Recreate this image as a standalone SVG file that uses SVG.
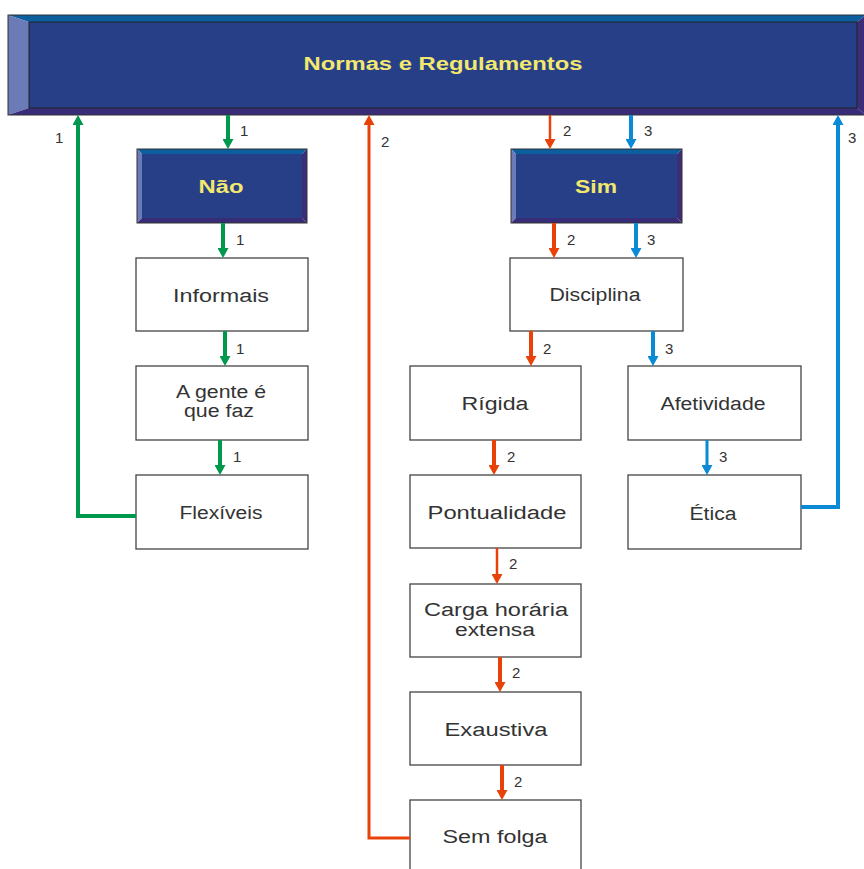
<svg xmlns="http://www.w3.org/2000/svg" width="864" height="869" viewBox="0 0 864 869">
<style>
.bt{fill:#0b5f9e}.bl{fill:#6a7bb7}.br{fill:#3d2c78}.bb{fill:#382c78}
.in{fill:#263f87;stroke:#222;stroke-width:1}
.out{fill:none;stroke:#333;stroke-width:1}
.box{fill:#fff;stroke:#444;stroke-width:1.3}
.tx{font-family:"Liberation Sans",Arial,sans-serif;font-size:18px;fill:#333;text-anchor:middle}
.ht{font-family:"Liberation Sans",Arial,sans-serif;font-size:17.5px;font-weight:bold;fill:#f2e86e;text-anchor:middle}
.lb{font-family:"Liberation Sans",Arial,sans-serif;font-size:15px;fill:#333}
.g{stroke:#00984c;fill:none;stroke-width:4}
.r{stroke:#e8420a;fill:none;stroke-width:4}
.b{stroke:#0a8ad6;fill:none;stroke-width:4}
</style>
<defs>
<marker id="ag" markerUnits="userSpaceOnUse" markerWidth="11" markerHeight="11" refX="4" refY="5.5" orient="auto"><path d="M0,0 L10,5.5 L0,11 z" fill="#00984c"/></marker>
<marker id="ar" markerUnits="userSpaceOnUse" markerWidth="11" markerHeight="11" refX="4" refY="5.5" orient="auto"><path d="M0,0 L10,5.5 L0,11 z" fill="#e8420a"/></marker>
<marker id="ab" markerUnits="userSpaceOnUse" markerWidth="11" markerHeight="11" refX="4" refY="5.5" orient="auto"><path d="M0,0 L10,5.5 L0,11 z" fill="#0a8ad6"/></marker>
</defs>
<rect width="864" height="869" fill="#fff"/>

<g id="normas">
<polygon class="bt" points="8,15 866,15 857,22 29,22"/>
<polygon class="bl" points="8,15 29,22 29,108 8,115"/>
<polygon class="br" points="866,15 866,115 857,108 857,22"/>
<polygon class="bb" points="8,115 29,108 857,108 866,115"/>
<rect class="in" x="29" y="22" width="828" height="86"/>
<rect class="out" x="8" y="15" width="858" height="100"/>
<text class="ht" x="443" y="70" textLength="279" lengthAdjust="spacingAndGlyphs">Normas e Regulamentos</text>
</g>

<g id="nao">
<polygon class="bt" points="137,149 307,149 302,154 142,154"/>
<polygon class="bl" points="137,149 142,154 142,218 137,223"/>
<polygon class="br" points="307,149 307,223 302,218 302,154"/>
<polygon class="bb" points="137,223 142,218 302,218 307,223"/>
<rect x="142" y="154" width="160" height="64" fill="#263f87"/>
<rect class="out" x="137" y="149" width="170" height="74"/>
<text class="ht" x="221" y="193" textLength="45" lengthAdjust="spacingAndGlyphs">Não</text>
</g>

<g id="sim">
<polygon class="bt" points="511,149 682,149 677,154 516,154"/>
<polygon class="bl" points="511,149 516,154 516,218 511,223"/>
<polygon class="br" points="682,149 682,223 677,218 677,154"/>
<polygon class="bb" points="511,223 516,218 677,218 682,223"/>
<rect x="516" y="154" width="161" height="64" fill="#263f87"/>
<rect class="out" x="511" y="149" width="171" height="74"/>
<text class="ht" x="596" y="193" textLength="42" lengthAdjust="spacingAndGlyphs">Sim</text>
</g>

<g id="informais"><rect class="box" x="136" y="258" width="172" height="73"/><text class="tx" x="221" y="302" textLength="96" lengthAdjust="spacingAndGlyphs">Informais</text></g>
<g id="agente"><rect class="box" x="136" y="366" width="172" height="74"/><text class="tx" x="221" y="398" textLength="90" lengthAdjust="spacingAndGlyphs">A gente é</text><text class="tx" x="219" y="417" textLength="70" lengthAdjust="spacingAndGlyphs">que faz</text></g>
<g id="flexiveis"><rect class="box" x="136" y="475" width="172" height="74"/><text class="tx" x="221" y="519" textLength="83" lengthAdjust="spacingAndGlyphs">Flexíveis</text></g>
<g id="disciplina"><rect class="box" x="510" y="258" width="173" height="73"/><text class="tx" x="595" y="301" textLength="91" lengthAdjust="spacingAndGlyphs">Disciplina</text></g>
<g id="rigida"><rect class="box" x="410" y="366" width="171" height="74"/><text class="tx" x="495" y="410" textLength="67" lengthAdjust="spacingAndGlyphs">Rígida</text></g>
<g id="afetividade"><rect class="box" x="628" y="366" width="173" height="74"/><text class="tx" x="713" y="410" textLength="105" lengthAdjust="spacingAndGlyphs">Afetividade</text></g>
<g id="pontualidade"><rect class="box" x="410" y="475" width="171" height="73"/><text class="tx" x="497" y="519" textLength="139" lengthAdjust="spacingAndGlyphs">Pontualidade</text></g>
<g id="etica"><rect class="box" x="628" y="475" width="173" height="74"/><text class="tx" x="713" y="520" textLength="47" lengthAdjust="spacingAndGlyphs">Ética</text></g>
<g id="carga"><rect class="box" x="410" y="584" width="171" height="73"/><text class="tx" x="496" y="616" textLength="144" lengthAdjust="spacingAndGlyphs">Carga horária</text><text class="tx" x="495" y="636" textLength="80" lengthAdjust="spacingAndGlyphs">extensa</text></g>
<g id="exaustiva"><rect class="box" x="410" y="692" width="171" height="73"/><text class="tx" x="496" y="736" textLength="103" lengthAdjust="spacingAndGlyphs">Exaustiva</text></g>
<g id="semfolga"><rect class="box" x="410" y="800" width="171" height="75"/><text class="tx" x="495" y="843" textLength="105" lengthAdjust="spacingAndGlyphs">Sem folga</text></g>

<g id="connectors">
<path class="g" d="M228,115 V143" marker-end="url(#ag)"/>
<path class="g" d="M223,223 V252" marker-end="url(#ag)"/>
<path class="g" d="M225,331 V360" marker-end="url(#ag)"/>
<path class="g" d="M220,440 V469" marker-end="url(#ag)"/>
<path class="g" d="M136,516 H78 V121" marker-end="url(#ag)"/>

<path class="r" style="stroke-width:2.5" d="M550,115 V143" marker-end="url(#ar)"/>
<path class="r" d="M554,223 V252" marker-end="url(#ar)"/>
<path class="r" d="M531,331 V360" marker-end="url(#ar)"/>
<path class="r" d="M494,440 V469" marker-end="url(#ar)"/>
<path class="r" style="stroke-width:2.5" d="M497,548 V578" marker-end="url(#ar)"/>
<path class="r" d="M500,657 V686" marker-end="url(#ar)"/>
<path class="r" d="M502,765 V794" marker-end="url(#ar)"/>
<path class="r" style="stroke-width:3" d="M410,838 H369 V121" marker-end="url(#ar)"/>

<path class="b" d="M631,115 V143" marker-end="url(#ab)"/>
<path class="b" d="M636,223 V252" marker-end="url(#ab)"/>
<path class="b" d="M653,331 V360" marker-end="url(#ab)"/>
<path class="b" style="stroke-width:3" d="M707,440 V469" marker-end="url(#ab)"/>
<path class="b" d="M801,507 H838 V121" marker-end="url(#ab)"/>

<text class="lb" x="240" y="136">1</text>
<text class="lb" x="236" y="245">1</text>
<text class="lb" x="236" y="354">1</text>
<text class="lb" x="233" y="462">1</text>
<text class="lb" x="55" y="143">1</text>
<text class="lb" x="563" y="136">2</text>
<text class="lb" x="567" y="245">2</text>
<text class="lb" x="543" y="354">2</text>
<text class="lb" x="507" y="462">2</text>
<text class="lb" x="509" y="569">2</text>
<text class="lb" x="512" y="678">2</text>
<text class="lb" x="514" y="787">2</text>
<text class="lb" x="381" y="147">2</text>
<text class="lb" x="644" y="136">3</text>
<text class="lb" x="647" y="245">3</text>
<text class="lb" x="665" y="354">3</text>
<text class="lb" x="719" y="462">3</text>
<text class="lb" x="848" y="143">3</text>
</g>
</svg>
